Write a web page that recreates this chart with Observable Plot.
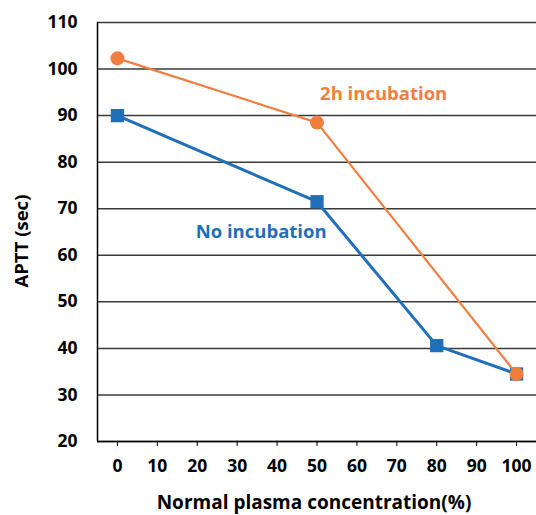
<!DOCTYPE html>
<html>
<head>
<meta charset="utf-8">
<script src="https://cdn.jsdelivr.net/npm/d3@7"></script>
<script src="https://cdn.jsdelivr.net/npm/@observablehq/plot@0.6"></script>
<style>
  html, body { margin: 0; padding: 0; background: #fff; }
  svg { font-family: "Open Sans", sans-serif; font-weight: bold; }
</style>
</head>
<body>
<div id="chart"></div>
<script>
const xTicks = [0, 10, 20, 30, 40, 50, 60, 70, 80, 90, 100];
const yTicks = [20, 30, 40, 50, 60, 70, 80, 90, 100, 110];

const noIncX = [0, 50, 80, 100];
const noIncY = [90, 71.5, 40.6, 34.5];

const incX = [0, 50, 100];
const incY = [102.3, 88.5, 34.5];

const labels = ["No incubation", "2h incubation"];
const labelX = [36, 66.7];
const labelY = [64.9, 94.7];

const xTitle = "Normal plasma concentration(%)";
const yTitle = "APTT (sec)";

const blue = "#1F6FBA";
const orange = "#F07E3E";

const noInc = noIncX.map((x, i) => ({x, y: noIncY[i]}));
const inc = incX.map((x, i) => ({x, y: incY[i]}));
const ann = labels.map((t, i) => ({t, x: labelX[i], y: labelY[i], c: i === 0 ? blue : orange}));

const chart = Plot.plot({
  width: 536,
  height: 515,
  marginLeft: 97,
  marginRight: 0,
  marginTop: 22,
  marginBottom: 74,
  style: {fontSize: "17px", fontFamily: "'Open Sans', sans-serif", fontWeight: "bold", color: "#000"},
  x: {domain: [-5, 105]},
  y: {domain: [20, 110]},
  marks: [
    Plot.gridY(yTicks, {stroke: "#3a3a3a", strokeOpacity: 1, strokeWidth: 1.5}),
    Plot.axisY(yTicks, {tickSize: 0, tickPadding: 20, fontSize: 17.5, label: null}),
    Plot.axisX(xTicks, {tickSize: 5, tickPadding: 13, fontSize: 17.5, label: null, stroke: "#000"}),
    Plot.text([xTitle], {frameAnchor: "bottom", dy: 61, dx: -3, lineAnchor: "middle", fontSize: 19, fontWeight: "bold", fill: "#000"}),
    Plot.text([yTitle], {frameAnchor: "left", dx: -75, dy: 9, rotate: -90, textAnchor: "middle", lineAnchor: "middle", fontSize: 18.5, fontWeight: "bold", fill: "#000"}),
    Plot.ruleY([20], {stroke: "#000", strokeWidth: 1.5}),
    Plot.ruleX([-5], {stroke: "#000", strokeWidth: 1.5}),
    Plot.line(noInc, {x: "x", y: "y", stroke: blue, strokeWidth: 3}),
    Plot.dot(noInc, {x: "x", y: "y", symbol: "square", r: 7.5, fill: blue}),
    Plot.line(inc, {x: "x", y: "y", stroke: orange, strokeWidth: 2.2}),
    Plot.dot(inc, {x: "x", y: "y", symbol: "circle", r: 7, fill: orange}),
    Plot.text(ann, {x: "x", y: "y", text: "t", fill: "c", fontSize: 18.5, fontWeight: "bold"})
  ]
});
document.getElementById("chart").appendChild(chart);
</script>
</body>
</html>
